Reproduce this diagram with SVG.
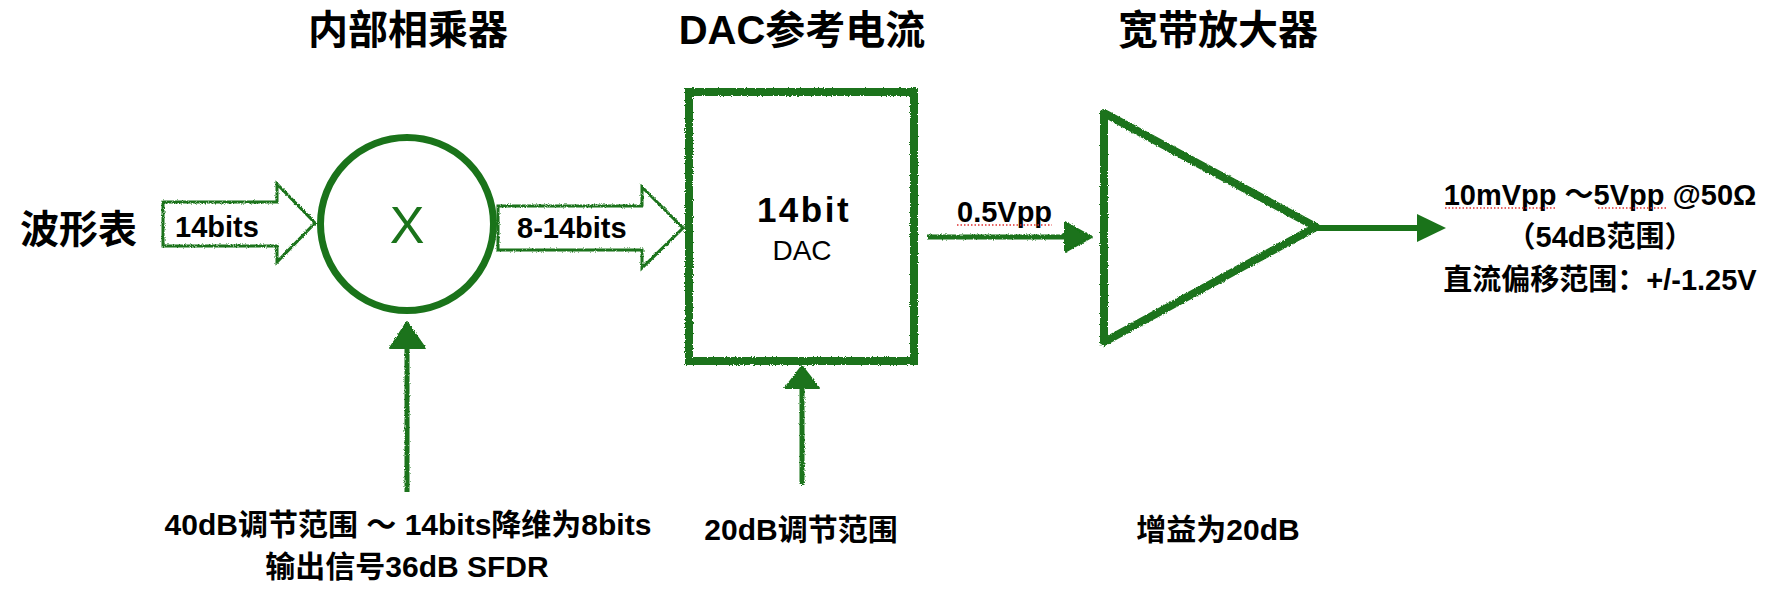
<svg xmlns="http://www.w3.org/2000/svg" width="1782" height="590" viewBox="0 0 1782 590">
<style>
.t{font-family:'Liberation Sans','Noto Sans CJK SC',sans-serif;font-weight:bold;fill:#000}
.title{font-size:40px;text-anchor:middle}
.lab{font-size:29px}
.note{font-size:30px;text-anchor:middle}
.g{stroke:#1a731a;fill:none}
.gf{fill:#1a731a;stroke:#1a731a;stroke-width:2;stroke-linejoin:round}
.spell{stroke:#e03030;stroke-width:1.5;stroke-dasharray:1.5 2;fill:none}
</style>
<defs>
<filter id="rough" filterUnits="userSpaceOnUse" x="0" y="0" width="1782" height="590">
<feTurbulence type="fractalNoise" baseFrequency="0.9" numOctaves="2" seed="3" result="n"/>
<feDisplacementMap in="SourceGraphic" in2="n" scale="3" xChannelSelector="R" yChannelSelector="G"/>
</filter>
</defs>
<rect width="1782" height="590" fill="#fff"/>

<g id="wavetable">
<text class="t" x="20" y="243" font-size="39">波形表</text>
</g>

<g id="multiplier">
<text class="t title" x="408" y="44">内部相乘器</text>
<circle class="g" cx="407" cy="224" r="86.5" stroke-width="7"/>
<text x="407" y="243" font-family="'Liberation Sans',sans-serif" font-size="52" fill="#1a731a" text-anchor="middle">X</text>
</g>

<g id="dac">
<text class="t title" x="802" y="44">DAC参考电流</text>
<rect class="g" x="689" y="92" width="225" height="269" stroke-width="8" filter="url(#rough)"/>
<text class="t" x="804" y="222" font-size="35" text-anchor="middle" letter-spacing="2.5">14bit</text>
<text x="802" y="260" font-family="'Liberation Sans',sans-serif" font-size="28" fill="#000" text-anchor="middle">DAC</text>
</g>

<g id="amplifier">
<text class="t title" x="1218" y="44">宽带放大器</text>
<path class="g" d="M1104,113 L1316,227 L1104,342 Z" stroke-width="8" stroke-linejoin="round" filter="url(#rough)"/>
</g>

<g id="output">
<text class="t lab" x="1600" y="205" text-anchor="middle">10mVpp ～5Vpp @50Ω</text>
<line class="spell" x1="1445" y1="208" x2="1557" y2="208"/>
<line class="spell" x1="1598" y1="208" x2="1668" y2="208"/>
<text class="t lab" x="1600" y="247" text-anchor="middle">（54dB范围）</text>
<text class="t lab" x="1600" y="290" text-anchor="middle">直流偏移范围：+/-1.25V</text>
</g>

<g id="notes">
<text class="t note" x="408" y="535">40dB调节范围 ～ 14bits降维为8bits</text>
<text class="t note" x="407" y="577">输出信号36dB SFDR</text>
<text class="t note" x="801" y="540">20dB调节范围</text>
<text class="t note" x="1218" y="540">增益为20dB</text>
</g>

<g id="connectors">
<g filter="url(#rough)">
<path class="g" d="M163,202 L277,202 L277,184 L315,223 L277,262 L277,246 L163,246 Z" fill="#fff" stroke-width="3"/>
<path class="g" d="M498,206 L642,206 L642,187 L683,228 L642,268 L642,250 L498,250 Z" fill="#fff" stroke-width="3"/>
<line class="g" x1="927" y1="237" x2="1070" y2="237" stroke-width="5"/>
<polygon class="gf" points="1065,222 1092,237 1065,252"/>
<line class="g" x1="407" y1="345" x2="407" y2="492" stroke-width="5"/>
<polygon class="gf" points="407,322 425,348 390,348"/>
<line class="g" x1="802" y1="385" x2="802" y2="485" stroke-width="5"/>
<polygon class="gf" points="802,366 819,388 785,388"/>
</g>
<line class="g" x1="1316" y1="228" x2="1420" y2="228" stroke-width="6"/>
<polygon points="1417,214 1446,228 1417,242" fill="#1a731a"/>
</g>

<g id="connector-labels">
<text class="t lab" x="175" y="237">14bits</text>
<text class="t lab" x="517" y="238">8-14bits</text>
<text class="t lab" x="957" y="222">0.5Vpp</text>
<line class="spell" x1="957" y1="225" x2="1052" y2="225"/>
</g>
</svg>
